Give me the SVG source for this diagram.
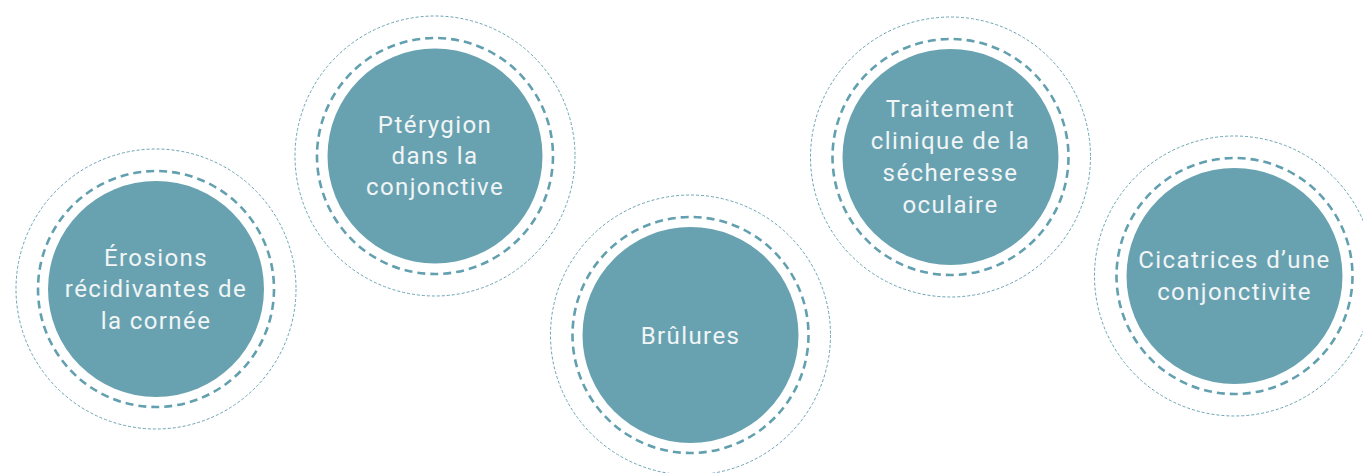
<svg xmlns="http://www.w3.org/2000/svg" width="1363" height="473" viewBox="0 0 1363 473">
<style>
.fill{fill:#68a2b1}
.dash{fill:none;stroke:#63a0af;stroke-width:2.6;stroke-dasharray:8 5}
.dot{fill:none;stroke:#6ba4b2;stroke-width:1;stroke-dasharray:3 2}
text{font-family:Roboto,"Liberation Sans",sans-serif;font-size:24px;fill:#f1f5f6;text-anchor:middle;letter-spacing:1.4px}
</style>
<rect width="1363" height="473" fill="#ffffff"/>
<g id="node-erosions">
<circle class="dot" cx="156" cy="289" r="140"/>
<circle class="dash" cx="156" cy="289" r="118"/>
<circle class="fill" cx="156" cy="289" r="108"/>
<text x="156" y="266">Érosions</text>
<text x="156" y="297">récidivantes de</text>
<text x="156" y="329">la cornée</text>
</g>
<g id="node-pterygion">
<circle class="dot" cx="435" cy="156" r="140"/>
<circle class="dash" cx="435" cy="156" r="118"/>
<circle class="fill" cx="435" cy="156" r="107.5"/>
<text x="435" y="133">Ptérygion</text>
<text x="435" y="164">dans la</text>
<text x="435" y="195">conjonctive</text>
</g>
<g id="node-brulures">
<circle class="dot" cx="690.5" cy="335" r="140"/>
<circle class="dash" cx="690.5" cy="335" r="118"/>
<circle class="fill" cx="690.5" cy="335" r="108"/>
<text x="690.5" y="344">Brûlures</text>
</g>
<g id="node-traitement">
<circle class="dot" cx="950.5" cy="157" r="140"/>
<circle class="dash" cx="950.5" cy="157" r="118"/>
<circle class="fill" cx="950.5" cy="157" r="108"/>
<text x="950.5" y="117">Traitement</text>
<text x="950.5" y="149">clinique de la</text>
<text x="950.5" y="181">sécheresse</text>
<text x="950.5" y="213">oculaire</text>
</g>
<g id="node-cicatrices">
<circle class="dot" cx="1234.5" cy="276" r="140"/>
<circle class="dash" cx="1234.5" cy="276" r="118"/>
<circle class="fill" cx="1234.5" cy="276" r="108"/>
<text x="1234.5" y="268">Cicatrices d’une</text>
<text x="1234.5" y="300">conjonctivite</text>
</g>
<g id="connectors"></g>
</svg>
